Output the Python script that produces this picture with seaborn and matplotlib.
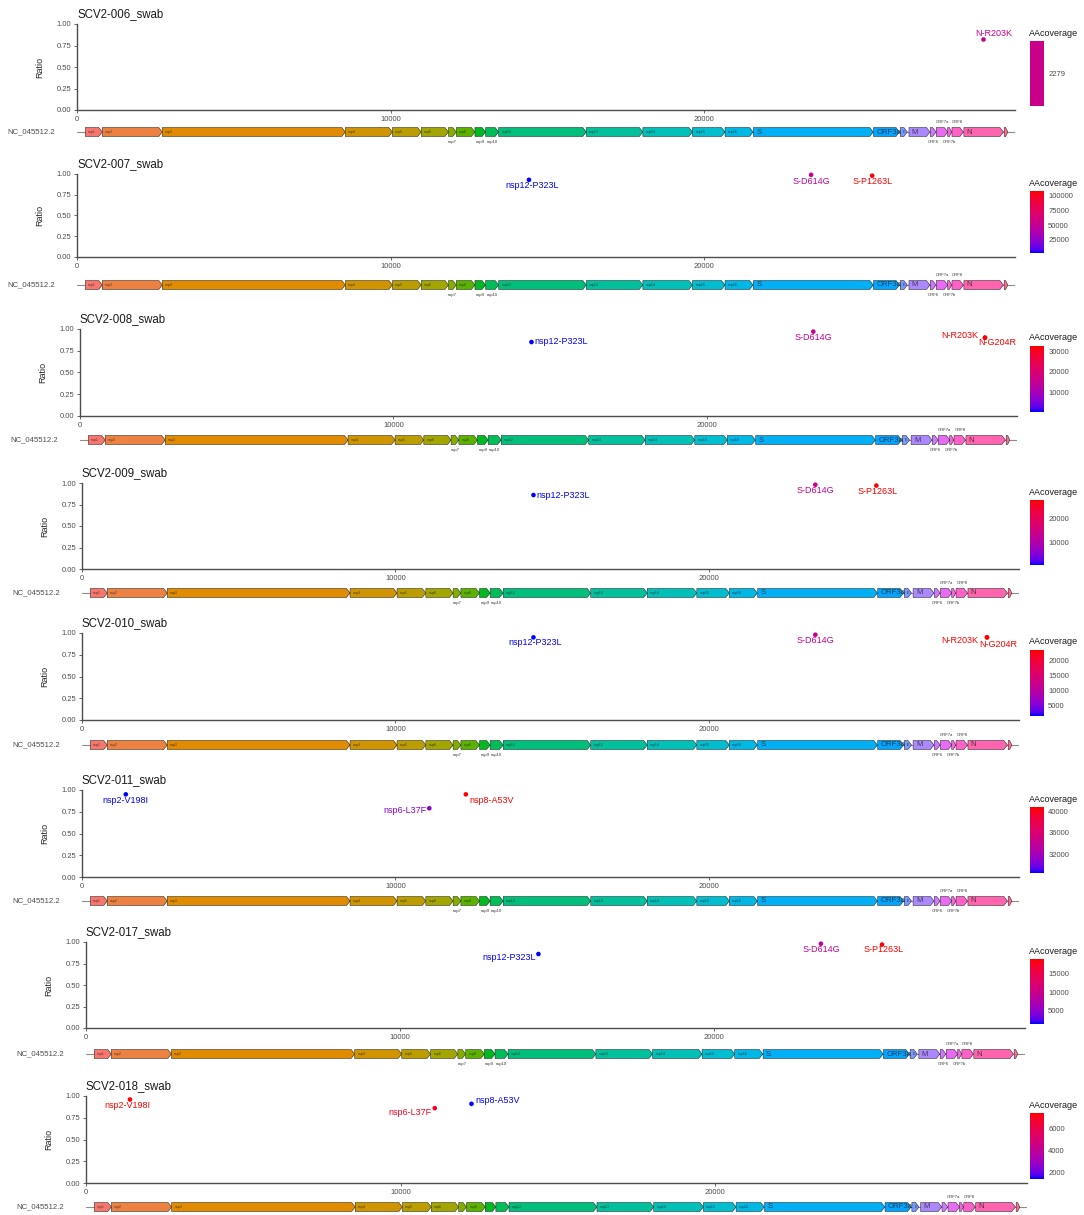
import numpy as np
import pandas as pd
import matplotlib

matplotlib.use("Agg")
import matplotlib.pyplot as plt
import seaborn as sns
from matplotlib.colors import LinearSegmentedColormap, ListedColormap, Normalize
from matplotlib.patches import Polygon
from matplotlib.cm import ScalarMappable

# ---- data -------------------------------------------------------------
samples = [
    "SCV2-006_swab", "SCV2-007_swab", "SCV2-008_swab", "SCV2-009_swab",
    "SCV2-010_swab", "SCV2-011_swab", "SCV2-017_swab", "SCV2-018_swab",
]

mut_labels = [
    ["N-R203K"],
    ["nsp12-P323L", "S-D614G", "S-P1263L"],
    ["nsp12-P323L", "S-D614G", "N-R203K", "N-G204R"],
    ["nsp12-P323L", "S-D614G", "S-P1263L"],
    ["nsp12-P323L", "S-D614G", "N-R203K", "N-G204R"],
    ["nsp2-V198I", "nsp6-L37F", "nsp8-A53V"],
    ["nsp12-P323L", "S-D614G", "S-P1263L"],
    ["nsp2-V198I", "nsp6-L37F", "nsp8-A53V"],
]
mut_pos = [
    [28881],
    [14408, 23403, 25350],
    [14408, 23403, 28881, 28883],
    [14408, 23403, 25350],
    [14408, 23403, 28881, 28883],
    [1397, 11083, 12250],
    [14408, 23403, 25350],
    [1397, 11083, 12250],
]
mut_ratio = [
    [0.83],
    [0.93, 0.99, 0.98],
    [0.85, 0.97, 0.90, 0.90],
    [0.86, 0.98, 0.97],
    [0.95, 0.98, 0.95, 0.95],
    [0.95, 0.79, 0.95],
    [0.86, 0.98, 0.97],
    [0.96, 0.86, 0.91],
]
mut_cov = [
    [2279],
    [2700, 50000, 108000],
    [500, 16000, 32500, 32500],
    [500, 14000, 27800],
    [1700, 12000, 23300, 23300],
    [28600, 31000, 40760],
    [1500, 9500, 18800],
    [7400, 6900, 1430],
]
cov_ticks = [
    [2279],
    [25000, 50000, 75000, 100000],
    [10000, 20000, 30000],
    [10000, 20000],
    [5000, 10000, 15000, 20000],
    [32000, 36000, 40000],
    [5000, 10000, 15000],
    [2000, 4000, 6000],
]

genome_id = "NC_045512.2"
genome_len = 29903
genes = ["nsp1", "nsp2", "nsp3", "nsp4", "nsp5", "nsp6", "nsp7", "nsp8", "nsp9",
         "nsp10", "nsp12", "nsp13", "nsp14", "nsp15", "nsp16", "S", "ORF3a", "E",
         "M", "ORF6", "ORF7a", "ORF7b", "ORF8", "N", "ORF10"]
gene_start = [266, 806, 2720, 8555, 10055, 10973, 11843, 12092, 12686, 13025,
              13442, 16237, 18040, 19621, 20659, 21563, 25393, 26245, 26523,
              27202, 27394, 27756, 27894, 28274, 29558]
gene_end = [805, 2719, 8554, 10054, 10972, 11842, 12091, 12685, 13024, 13441,
            16236, 18039, 19620, 20658, 21552, 25384, 26220, 26472, 27191,
            27387, 27759, 27887, 28259, 29533, 29674]

# ---- layout / style ---------------------------------------------------
W, H = 1084, 1215
# (x of 0, x of genome end, top, bottom, track centre) in pixels
panel_px = [
    (77, 1015, 24, 110, 132),
    (77, 1015, 174, 257, 285),
    (80, 1017, 329, 416, 440),
    (82, 1019, 483, 569, 593),
    (82, 1019, 633, 720, 745),
    (82, 1019, 790, 877, 901),
    (86, 1025, 942, 1028, 1054),
    (86, 1027, 1096, 1183, 1207),
]
# label offsets from point, pixels (right, down)
label_off = [
    [(11, -5)],
    [(3, 6), (0, 7), (0, 6)],
    [(30, -1), (0, 6), (-25, -2), (12, 5)],
    [(30, 0), (0, 6), (1, 6)],
    [(2, 5), (0, 6), (-27, 3), (11, 7)],
    [(0, 6), (-24, 2), (26, 6)],
    [(-29, 3), (0, 6), (2, 5)],
    [(-3, 6), (-25, 4), (26, -3)],
]
gene_lab = ["in", "in", "in", "in", "in", "in", "below", "in", "below", "below",
            "in", "in", "in", "in", "in", "big", "big", "in", "big", "below",
            "above", "below", "above", "big", "none"]


def rgb_from_xyz(X, Y, Z):
    lin = [3.2406 * X - 1.5372 * Y - 0.4986 * Z,
           -0.9689 * X + 1.8758 * Y + 0.0415 * Z,
           0.0557 * X - 0.2040 * Y + 1.0570 * Z]
    out = []
    for c in lin:
        c = 12.92 * c if c <= 0.0031308 else 1.055 * abs(c) ** (1 / 2.4) - 0.055
        out.append(min(max(c, 0), 1))
    return tuple(out)


def hcl(h, c=100.0, l=65.0):
    hr = np.deg2rad(h)
    u, v = c * np.cos(hr), c * np.sin(hr)
    un, vn = 0.1978398, 0.4683363
    Y = ((l + 16) / 116) ** 3
    up = u / (13 * l) + un
    vp = v / (13 * l) + vn
    return rgb_from_xyz(Y * 9 * up / (4 * vp), Y, Y * (12 - 3 * up - 20 * vp) / (4 * vp))


def lab(L, a, b):
    fy = (L + 16) / 116
    fx, fz = fy + a / 500, fy - b / 200
    finv = lambda t: t ** 3 if t ** 3 > 0.008856 else (t - 16 / 116) / 7.787
    return rgb_from_xyz(0.95047 * finv(fx), finv(fy), 1.08883 * finv(fz))


# blue -> red interpolated in Lab (like scale_colour_gradient)
lab_blue, lab_red = np.array([32.30, 79.19, -107.86]), np.array([53.24, 80.09, 67.20])
cmap = LinearSegmentedColormap.from_list(
    "bluered", [lab(*(lab_blue + t * (lab_red - lab_blue))) for t in np.linspace(0, 1, 21)]
)
gene_cols = [hcl(15 + i * 360 / len(genes)) for i in range(len(genes))]

sns.set_theme(style="white")
plt.rcParams["font.family"] = ["Liberation Sans", "DejaVu Sans"]
axis_grey = "#4d4d4d"

fig = plt.figure(figsize=(W / 100, H / 100), dpi=100)


def rect(x0, x1, top, bottom):
    return [x0 / W, 1 - bottom / H, (x1 - x0) / W, (bottom - top) / H]


for i, name in enumerate(samples):
    x0, x1, top, bottom, ty = panel_px[i]
    last = i == len(samples) - 1
    ax = fig.add_axes(rect(x0, x1, top, bottom))
    df = pd.DataFrame({"pos": mut_pos[i], "ratio": mut_ratio[i], "cov": mut_cov[i]})
    lo, hi = min(mut_cov[i]), max(mut_cov[i])
    if lo == hi:
        norm = Normalize(lo - 1, hi + 1)
    else:
        norm = Normalize(lo, hi)
    sns.scatterplot(data=df, x="pos", y="ratio", hue="cov", palette=cmap,
                    hue_norm=norm, s=11, linewidth=0, legend=False, ax=ax,
                    clip_on=False, zorder=3)
    for lbl, p, r, cv, (dx, dy) in zip(mut_labels[i], mut_pos[i], mut_ratio[i],
                                       mut_cov[i], label_off[i]):
        ax.annotate(lbl, xy=(p, r), xytext=(dx, -dy), textcoords="offset pixels",
                    ha="center", va="center", fontsize=6.5, color=cmap(norm(cv)),
                    annotation_clip=False)
    ax.set_xlim(0, genome_len)
    ax.set_ylim(0, 1)
    ax.set_xticks([0, 10000, 20000])
    ax.set_yticks([0, 0.25, 0.5, 0.75, 1.0])
    ax.set_yticklabels(["0.00", "0.25", "0.50", "0.75", "1.00"])
    ax.set_xlabel("")
    ax.set_ylabel("Ratio", fontsize=6.5, labelpad=9)
    for s in ["top", "right"]:
        ax.spines[s].set_visible(False)
    for s in ["left", "bottom"]:
        ax.spines[s].set_color(axis_grey)
        ax.spines[s].set_linewidth(1.0)
    ax.tick_params(axis="both", which="both", labelsize=5.5, labelcolor=axis_grey,
                   colors=axis_grey, length=2.5, width=0.6, pad=1.5,
                   bottom=True, left=True)
    ax.tick_params(axis="both", labelcolor=axis_grey)
    ax.set_facecolor("white")
    fig.text(x0 / W, 1 - (top - 10) / H, name, fontsize=8.3, ha="left",
             va="center", color="#1a1a1a")

    # colour bar
    cax = fig.add_axes(rect(1030, 1044, top + 17, bottom - 4))
    if lo == hi:
        sm = ScalarMappable(norm=norm, cmap=ListedColormap([cmap(0.5)]))
    else:
        sm = ScalarMappable(norm=norm, cmap=cmap)
    cb = fig.colorbar(sm, cax=cax, ticks=cov_ticks[i])
    cb.outline.set_visible(False)
    cax.tick_params(axis="y", length=2, width=0.6, color="white", direction="in",
                    labelsize=5.5, labelcolor=axis_grey, pad=3,
                    left=True, right=True, labelleft=False, labelright=True)
    fig.text(1029 / W, 1 - (top + 9) / H, "AAcoverage", fontsize=6.5,
             ha="left", va="center", color="#1a1a1a")

    # gene track
    tax = fig.add_axes(rect(x0, x1, ty - 15, ty + 15))
    tax.set_xlim(0, genome_len)
    tax.set_ylim(-1.5, 1.5)
    tax.axis("off")
    tax.plot([0, genome_len], [0, 0], color="#8c8c8c", lw=0.8, zorder=1)
    hl = 3.5 * genome_len / (x1 - x0)
    hh = 0.45
    for g, gs, ge, col, lab_mode in zip(genes, gene_start, gene_end, gene_cols, gene_lab):
        head = min(hl, (ge - gs) * 0.6)
        pts = [(gs, -hh), (ge - head, -hh), (ge, 0), (ge - head, hh), (gs, hh)]
        tax.add_patch(Polygon(pts, closed=True, facecolor=col, edgecolor="#1a1a1a",
                              lw=0.35, zorder=2))
        mid = (gs + ge) / 2
        if lab_mode == "in":
            tax.text(gs + hl * 0.8, 0, g, fontsize=2.6, ha="left", va="center",
                     color="#1a1a1a", alpha=0.75, zorder=3)
        elif lab_mode == "big":
            tax.text(gs + hl * 0.8, 0, g, fontsize=5.6, ha="left", va="center",
                     color="#1a1a1a", alpha=0.75, zorder=3)
        elif lab_mode == "below" and not last:
            tax.text(mid, -1.0, g, fontsize=3.0, ha="center", va="center",
                     color="#333333")
        elif lab_mode == "above":
            tax.text(mid, 1.0, g, fontsize=3.0, ha="center", va="center",
                     color="#333333")
    fig.text((x0 - 22) / W, 1 - ty / H, genome_id, fontsize=5.6, ha="right",
             va="center", color=axis_grey)

fig.savefig("out.png", dpi=100)
